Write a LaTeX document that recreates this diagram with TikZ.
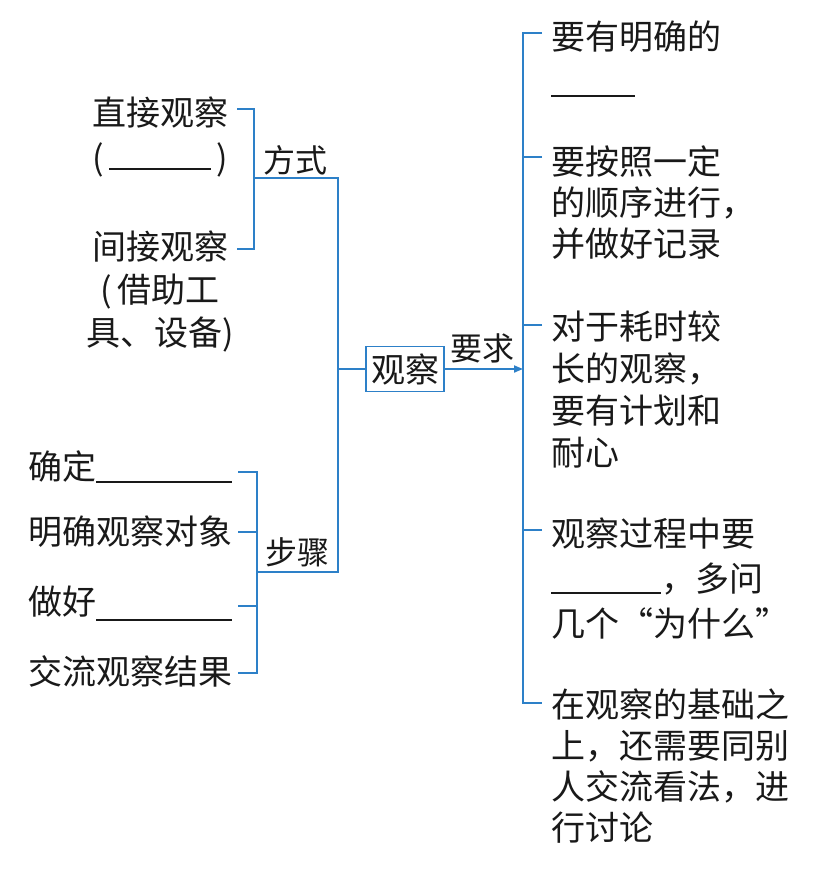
\documentclass[tikz,border=0pt]{standalone}
\usepackage{fontspec}
\newfontfamily\cjk{Noto Sans CJK SC}
\usetikzlibrary{arrows.meta}
\definecolor{lineblue}{RGB}{45,128,200}
\definecolor{inkc}{RGB}{25,25,25}
\newcommand\blankline[2][0pt]{\rule[#1]{#2}{1.7pt}}
\newcommand\fsa{\rule{0pt}{31pt}}
\newcommand\fsb{\rule{0pt}{33pt}}
\begin{document}
\begin{tikzpicture}[x=1pt,y=-1pt,
  conn/.style={draw=lineblue,line width=1.8pt},
  txt/.style={inner sep=0pt,outer sep=0pt,text=inkc,font=\cjk\fontsize{34}{42}\selectfont},
  lead/.style={font=\cjk\fontsize{34}{#1}\selectfont},
  lbl/.style={inner sep=0pt,outer sep=0pt,text=inkc,font=\cjk\fontsize{32}{38}\selectfont},
  boxnode/.style={draw=lineblue,line width=1.8pt,minimum width=78pt,minimum height=45pt,
    inner sep=0pt,text=inkc,font=\cjk\fontsize{34}{40}\selectfont}]
\useasboundingbox[fill=white] (0,0) rectangle (812,870);

% left top texts
\node[txt,lead=45,align=center,anchor=north] (zhijie) at (160,94)
  {\fsa 直接观察\\(\hspace{5pt}\blankline{102pt}\hspace{5pt})};
\node[txt,lead=43,align=center,anchor=north] (jianjie) at (160,228)
  {\fsa 间接观察\\(\hspace{6pt}借助工\\具、设备)};

% left bottom texts
\node[txt,anchor=north west] (queding) at (28,446) {\fsb 确定\blankline[-4pt]{136pt}};
\node[txt,anchor=north west] (mingque) at (28,511) {\fsb 明确观察对象};
\node[txt,anchor=north west] (zuohao) at (28,581) {\fsb 做好\blankline[-7pt]{136pt}};
\node[txt,anchor=north west] (jiaoliu) at (28,651) {\fsb 交流观察结果};

% labels
\node[lbl] (fangshi) at (295,160) {方式};
\node[lbl] (buzhou) at (297,552) {步骤};
\node[lbl] (yaoqiu) at (482,348) {要求};

% center box
\node[boxnode] (guancha) at (405,369) {观察};

% right texts
\node[txt,lead=42,align=left,anchor=north west] (r1) at (551,18)
  {\fsa 要有明确的\\\blankline[-6pt]{84pt}};
\node[txt,lead=41,align=left,anchor=north west] (r2) at (551,143)
  {\fsa 要按照一定\\的顺序进行，\\并做好记录};
\node[txt,lead=42,align=left,anchor=north west] (r3) at (551,308)
  {\fsa 对于耗时较\\长的观察，\\要有计划和\\耐心};
\node[txt,lead=45,align=left,anchor=north west] (r4) at (551,515)
  {\fsa 观察过程中要\\\blankline[-3pt]{110pt}，多问\\几个“为什么”};
\node[txt,lead=41,align=left,anchor=north west] (r5) at (551,686)
  {\fsa 在观察的基础之\\上，还需要同别\\人交流看法，进\\行讨论};

% bracket coordinates
\coordinate (fsA) at (237,109);
\coordinate (fsB) at (254,109);
\coordinate (fsC) at (254,249);
\coordinate (fsD) at (237,249);
\coordinate (fsM) at (254,178);
\coordinate (trT) at (338,178);
\coordinate (trB) at (338,572);
\coordinate (trBox) at (338,369);
\coordinate (bzM) at (257,572);
\coordinate (bzT) at (257,472);
\coordinate (bzB) at (257,673);
\coordinate (bz1) at (238,472);
\coordinate (bz2) at (238,532);
\coordinate (bz3) at (238,606);
\coordinate (bz4) at (238,673);
\coordinate (rT) at (523,33);
\coordinate (rB) at (523,703);
\coordinate (rt1) at (542,33);
\coordinate (rt2) at (542,157);
\coordinate (rt3) at (542,325);
\coordinate (rt4) at (542,530);
\coordinate (rt5) at (542,703);

% left-top bracket
\draw[conn] (fsA) -- (fsB) -- (fsC) -- (fsD);
\draw[conn] (fsM) -- (trT) -- (trB) -- (bzM);
% left-bottom bracket
\draw[conn] (bz1) -- (bzT) -- (bzB) -- (bz4);
\draw[conn] (bz2) -- (bz2 -| bzT);
\draw[conn] (bz3) -- (bz3 -| bzT);
% to box
\draw[conn] (trBox) -- (guancha.west);
\draw[conn,-{Triangle[length=9pt,width=7pt]}] (guancha.east) -- (guancha.east -| rT);
% right bracket
\draw[conn] (rt1) -- (rT) -- (rB) -- (rt5);
\draw[conn] (rt2) -- (rt2 -| rT);
\draw[conn] (rt3) -- (rt3 -| rT);
\draw[conn] (rt4) -- (rt4 -| rT);
\end{tikzpicture}
\end{document}
